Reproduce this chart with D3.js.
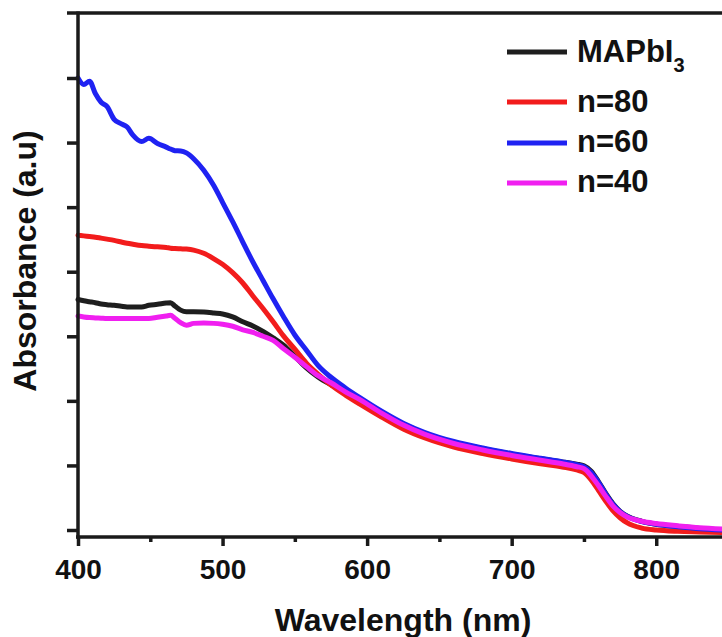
<!DOCTYPE html>
<html>
<head>
<meta charset="utf-8">
<script src="https://cdn.jsdelivr.net/npm/d3@7"></script>
<style>
html,body{margin:0;padding:0;background:#fff;}
svg{display:block;}
text{font-family:"Liberation Sans",Arial,sans-serif;font-weight:bold;fill:#111;}
</style>
</head>
<body>
<svg id="chart" width="722" height="637"></svg>
<script>
// Wavelength grid (nm)
const wavelengths = [400,404,408,412,416,420,425,430,434,438,444,449,455,461,464,467,471,475,480,487,494,500,507,514,521,528,535,542,550,558,566,575,585,595,610,625,640,660,680,700,720,735,745,750,755,760,765,770,775,780,790,800,815,830,846];

// Absorbance (a.u.) per series
const mapbi3 = [0.714,0.710,0.707,0.704,0.700,0.698,0.696,0.693,0.691,0.691,0.691,0.696,0.699,0.703,0.704,0.694,0.681,0.676,0.676,0.675,0.672,0.669,0.660,0.645,0.632,0.615,0.595,0.573,0.538,0.502,0.474,0.450,0.427,0.406,0.364,0.328,0.299,0.271,0.252,0.235,0.221,0.211,0.204,0.199,0.182,0.150,0.114,0.082,0.058,0.043,0.027,0.018,0.011,0.005,0.001];
const n80 = [0.913,0.911,0.909,0.907,0.904,0.901,0.897,0.892,0.888,0.885,0.881,0.879,0.877,0.875,0.873,0.872,0.871,0.870,0.867,0.857,0.840,0.823,0.797,0.765,0.725,0.686,0.645,0.602,0.560,0.517,0.483,0.449,0.418,0.390,0.350,0.313,0.285,0.257,0.237,0.220,0.205,0.195,0.186,0.178,0.155,0.123,0.090,0.060,0.038,0.022,0.006,0.000,-0.004,-0.006,-0.008];
const n60 = [1.400,1.380,1.390,1.352,1.325,1.312,1.272,1.258,1.248,1.223,1.203,1.213,1.197,1.186,1.180,1.175,1.174,1.168,1.150,1.114,1.066,1.015,0.955,0.892,0.830,0.773,0.716,0.662,0.604,0.557,0.510,0.473,0.440,0.410,0.368,0.331,0.302,0.274,0.254,0.237,0.222,0.211,0.202,0.196,0.178,0.148,0.112,0.080,0.057,0.042,0.026,0.018,0.010,0.004,0.000];
const n40 = [0.663,0.660,0.658,0.657,0.656,0.655,0.655,0.655,0.655,0.655,0.655,0.655,0.659,0.663,0.665,0.656,0.642,0.634,0.640,0.641,0.640,0.637,0.631,0.620,0.612,0.600,0.587,0.562,0.535,0.506,0.478,0.456,0.428,0.404,0.362,0.325,0.296,0.268,0.248,0.231,0.216,0.205,0.196,0.190,0.168,0.138,0.105,0.075,0.054,0.040,0.027,0.020,0.013,0.007,0.003];

const seriesNames = ["MAPbI3","n=80","n=60","n=40"];
const seriesValues = [mapbi3, n80, n60, n40];
const seriesColors = ["#1e1e1e","#f21c1c","#1f22f2","#f01ff0"];

const xMajorTicks = [400,500,600,700,800];
const xMinorTicks = [450,550,650,750,850];
const yTicks = [0,0.2,0.4,0.6,0.8,1.0,1.2,1.4];

const svg = d3.select("#chart");
const x = d3.scaleLinear().domain([400, 845.5]).range([78, 722]);
const y = d3.scaleLinear().domain([0, 1.4]).range([530, 78]);
const yBottom = 537, yTop = 13;

// curves
const line = d3.line()
  .x((d,i)=>x(wavelengths[i]))
  .y(d=>y(d))
  .curve(d3.curveMonotoneX);

seriesValues.forEach((vals,k)=>{
  svg.append("path")
    .attr("d", line(vals))
    .attr("fill","none")
    .attr("stroke", seriesColors[k])
    .attr("stroke-width", 5)
    .attr("stroke-linejoin","round")
    .attr("stroke-linecap","round");
});

// axes frame
const axisColor = "#1a1a1a";
svg.append("line").attr("x1",67).attr("x2",722).attr("y1",yTop).attr("y2",yTop)
  .attr("stroke",axisColor).attr("stroke-width",3.5);
svg.append("line").attr("x1",78).attr("x2",78).attr("y1",yTop-1.5).attr("y2",yBottom+1.5)
  .attr("stroke",axisColor).attr("stroke-width",3.5);
svg.append("line").attr("x1",76).attr("x2",722).attr("y1",yBottom).attr("y2",yBottom)
  .attr("stroke",axisColor).attr("stroke-width",3.5);

// x axis major
const xAxis = d3.axisBottom(x).tickValues(xMajorTicks).tickSize(9).tickPadding(8).tickFormat(d3.format("d"));
const gx = svg.append("g").attr("transform",`translate(0,${yBottom})`).call(xAxis);
gx.select(".domain").remove();
gx.selectAll(".tick line").attr("stroke",axisColor).attr("stroke-width",3.5);
gx.selectAll(".tick text").attr("font-size",28).attr("font-family","Liberation Sans, Arial, sans-serif")
  .attr("font-weight","bold").attr("fill","#111").attr("dy",null).attr("y",42);

// x axis minor
const xAxisMinor = d3.axisBottom(x).tickValues(xMinorTicks).tickSize(5).tickFormat("");
const gxm = svg.append("g").attr("transform",`translate(0,${yBottom})`).call(xAxisMinor);
gxm.select(".domain").remove();
gxm.selectAll(".tick line").attr("stroke",axisColor).attr("stroke-width",3.5);

// y axis ticks (no labels)
const yAxis = d3.axisLeft(y).tickValues(yTicks).tickSize(11).tickFormat("");
const gy = svg.append("g").attr("transform","translate(78,0)").call(yAxis);
gy.select(".domain").remove();
gy.selectAll(".tick line").attr("stroke",axisColor).attr("stroke-width",3.5);

// axis titles
svg.append("text").attr("x",403).attr("y",631).attr("text-anchor","middle")
  .attr("font-size",32).text("Wavelength (nm)");
svg.append("text").attr("transform","translate(36,261) rotate(-90)").attr("text-anchor","middle")
  .attr("font-size",32).text("Absorbance (a.u)");

// legend
const legendLineY = [52,102,143,183];
const legendTextY = [62,112,152,192];
seriesNames.forEach((name,k)=>{
  svg.append("line").attr("x1",507).attr("x2",567)
    .attr("y1",legendLineY[k]).attr("y2",legendLineY[k])
    .attr("stroke",seriesColors[k]).attr("stroke-width",5);
  const t = svg.append("text").attr("x",577).attr("y",legendTextY[k]).attr("font-size",31);
  if (name === "MAPbI3") {
    t.append("tspan").text("MAPbI");
    t.append("tspan").attr("font-size",20).attr("dy",10).text("3");
  } else {
    t.text(name);
  }
});
</script>
</body>
</html>
